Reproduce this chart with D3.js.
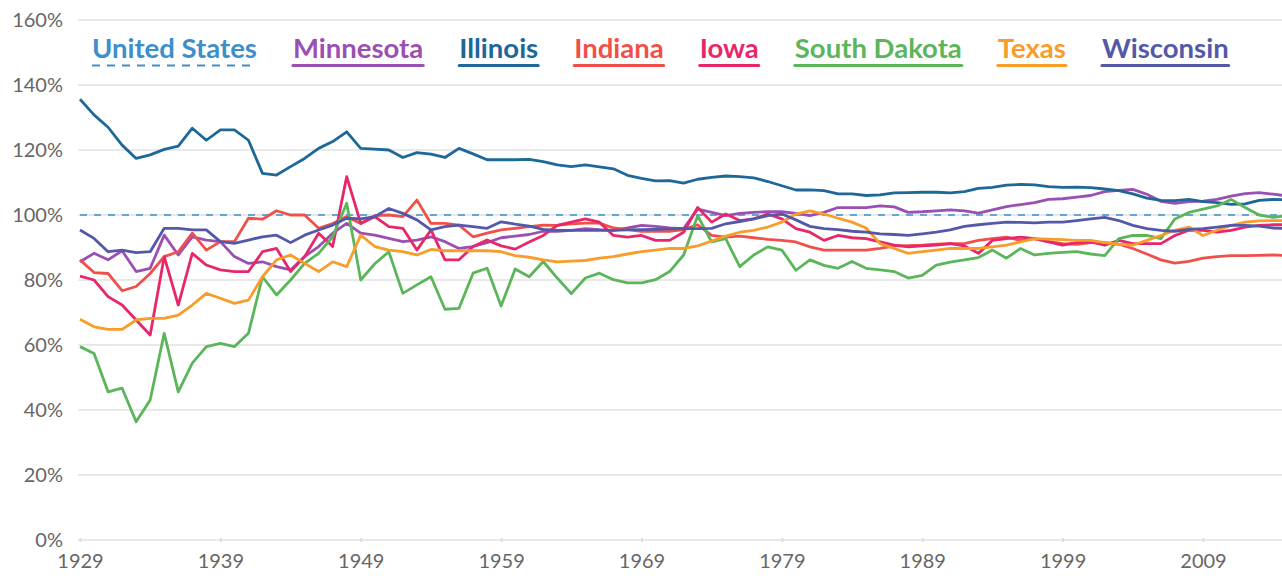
<!DOCTYPE html>
<html>
<head>
<meta charset="utf-8">
<script src="https://cdn.jsdelivr.net/npm/d3@7"></script>
<style>
  body { margin: 0; background: #fff; }
  svg { display: block; font-family: Lato, "Open Sans", sans-serif; }
</style>
</head>
<body>
<svg id="chart" width="1282" height="580"></svg>
<script>
const firstYear = 1929
const lastYear = 2015
const years = d3.range(firstYear, lastYear + 1)
const xTicks = [1929, 1939, 1949, 1959, 1969, 1979, 1989, 1999, 2009]
const yTicks = [0, 20, 40, 60, 80, 100, 120, 140, 160]
const usLevel = 100

// per capita income relative to the US, %
const illinois = [135.6,130.8,127,121.5,117.4,118.5,120.2,121.2,126.7,123,126.2,126.2,123,112.8,112.3,114.9,117.4,120.5,122.6,125.6,
  120.5,120.3,120,117.7,119.2,118.7,117.7,120.5,118.8,117,117,117,117.1,116.4,115.4,114.9,115.4,114.8,114.2,112.2,
  111.3,110.5,110.6,109.8,111,111.6,112,111.8,111.4,110.3,109,107.7,107.7,107.5,106.5,106.5,106,106.2,106.8,106.9,
  107,107,106.8,107.2,108.2,108.5,109.2,109.4,109.3,108.7,108.5,108.6,108.4,108,107.5,106.5,105.2,104.5,104.4,104.8,
  104.1,103.8,103.3,103.4,104.5,104.8,104.7]
const minnesota = [85.6,88.2,86.2,89,82.6,83.6,93.8,87.7,93.3,92.3,91.8,87.2,85.1,85.6,84.1,83.1,87.2,90.3,94.4,97.4,
  94.4,93.8,92.8,91.8,92.3,93.3,91.8,89.7,90.3,91.5,93,93.5,94,95,95,95.3,95.8,95.5,95.3,96,
  96.8,96.5,96,95.8,101.8,100.8,99.8,100.5,100.8,101,101,100.5,99.8,100.8,102.3,102.3,102.3,102.8,102.5,100.8,
  101,101.3,101.6,101.3,100.6,101.6,102.6,103.2,103.8,104.8,105,105.5,106,107.2,107.6,107.9,106.4,104.2,103.6,104.1,
  104.3,104.8,105.8,106.6,106.9,106.4,105.9]
const indiana = [86.2,82.3,82,76.7,78,82,87.2,88.7,94.4,89.2,91.8,91.8,99,98.7,101.3,100,100,95.9,97.4,99.5,
  97.4,99.8,100,99.5,104.6,97.4,97.4,96.9,93.3,94.4,95.4,95.9,96.4,96.9,96.8,97.3,97.5,97.5,96,95.5,
  95,95,95,95.5,97,93.7,93.2,93.5,93,92.5,92.2,91.7,90.2,89.2,89.2,89.2,89.2,89.7,90.5,90.6,
  90.7,91,91.2,91.2,92.2,92.7,93.2,92.2,92.7,91.8,91.2,91,91.5,91.5,91,89.7,88,86.2,85.2,85.7,
  86.7,87.2,87.5,87.5,87.6,87.7,87.5]
const iowa = [81.2,80,74.9,72.3,67.7,63.1,87.2,72.3,88.2,84.6,83.1,82.6,82.6,88.7,89.7,82.6,87.2,94.4,90.3,111.8,
  97.4,99.5,96.4,95.9,89.2,95.4,86.2,86.2,90.3,92.3,90.5,89.5,91.7,93.7,96.8,97.8,98.8,97.8,93.7,93.2,
  93.7,92.2,92.2,94.7,102.3,97.8,100.3,98.3,98.8,100.3,98.8,95.8,94.7,92.2,93.7,93,92.7,91.7,90.7,90.2,
  90.5,90.7,91.2,90.5,88.2,92.2,92.7,93.2,92.7,91.7,90.7,91.5,91.7,90.7,92.2,91.2,91.2,91.2,93.7,95.3,
  95.3,94.7,95.3,96.3,96.8,97,97]
const southDakota = [59.5,57.4,45.6,46.7,36.4,43.1,63.6,45.6,54.4,59.5,60.5,59.5,63.6,81,75.4,80,85.1,88.2,93.3,103.6,
  80,85,88.7,75.9,78.5,81,71,71.3,82.1,83.6,72,83.4,81,85.7,80.6,75.8,80.6,82.1,80.1,79.1,
  79.1,80.1,82.6,87.7,99.8,91.7,92.7,84.1,87.7,90.2,89.2,83,86.2,84.5,83.6,85.7,83.6,83.1,82.6,80.6,
  81.4,84.6,85.5,86.2,86.9,89.2,86.7,89.7,87.7,88.2,88.5,88.7,88,87.5,92.7,93.7,93.7,92.7,98.8,100.8,
  101.8,102.8,104.8,102.3,100,99.3,99.8]
const texas = [67.9,65.6,64.8,64.8,67.7,68.2,68.2,69.2,72.3,75.9,74.4,72.8,73.8,81,86.2,87.7,85.1,82.6,85.6,84.1,
  93.8,90.3,89.2,88.7,87.7,89.4,89,89,89,89,88.7,87.5,87,86.2,85.6,85.8,86,86.7,87.2,88,
  88.7,89.2,89.7,89.7,90.5,92,93.5,94.7,95.3,96.3,97.8,100.3,101.3,100.3,99,97.8,96,91.2,89.7,88.2,
  88.7,89.2,89.7,89.7,89.7,90.2,90.7,91.7,92.7,92.6,92.4,92.2,92.2,91.5,91,90.7,92.2,93.7,95.3,96.3,
  93.7,95.3,96.8,97.8,98.2,98.3,98.3]
const wisconsin = [95.4,92.8,88.7,89.2,88.4,88.7,95.9,95.9,95.4,95.4,91.8,91.3,92.3,93.3,93.8,91.5,93.8,95.4,96.9,99,
  98.8,99.5,102,100.5,98.5,95.4,96.4,96.9,96.4,95.9,97.9,97.2,96.6,95.6,95.3,95.3,95.3,95.3,95.3,95.4,
  95.5,95.6,95.7,95.8,95.8,95.9,97.3,98,98.8,99.8,100.3,98.5,96.5,95.8,95.5,95,94.7,94.2,94,93.7,
  94.2,94.7,95.4,96.5,97,97.4,97.8,97.7,97.6,97.8,97.8,98.3,98.8,99.3,98.3,96.8,95.8,95.3,95,95.6,
  95.8,96.3,96.8,96.8,96.6,96,95.8]

const series = [
  { name: 'United States', color: '#3d8fcc', values: years.map(() => usLevel), dashed: true },
  { name: 'Minnesota', color: '#9b4fb3', values: minnesota },
  { name: 'Illinois', color: '#1d6898', values: illinois },
  { name: 'Indiana', color: '#f0504a', values: indiana },
  { name: 'Iowa', color: '#e8276b', values: iowa },
  { name: 'South Dakota', color: '#5bb65a', values: southDakota },
  { name: 'Texas', color: '#f89c2a', values: texas },
  { name: 'Wisconsin', color: '#5458a9', values: wisconsin }
]

const svg = d3.select('#chart')
const width = 1282

const x = d3.scaleLinear().domain([1929, 2009]).range([80, 1203])
const y = d3.scaleLinear().domain([0, 160]).range([540, 20])

// grid
svg.append('g')
  .selectAll('line')
  .data(yTicks)
  .enter()
  .append('line')
  .attr('x1', 78)
  .attr('x2', width)
  .attr('y1', d => y(d))
  .attr('y2', d => y(d))
  .attr('stroke', '#e9e9e9')
  .attr('stroke-width', 2)

svg.append('g')
  .selectAll('text')
  .data(yTicks)
  .enter()
  .append('text')
  .attr('x', 63)
  .attr('y', d => y(d) + 7)
  .attr('text-anchor', 'end')
  .attr('fill', '#666')
  .style('font-size', '20px')
  .text(d => d + '%')

// x axis
const xAxis = svg.append('g')
  .attr('transform', 'translate(0,' + y(0) + ')')
  .call(d3.axisBottom(x).tickValues(xTicks).tickFormat(d3.format('d')).tickSize(4).tickPadding(10))
xAxis.select('.domain').remove()
xAxis.selectAll('.tick line').attr('stroke', '#ddd').attr('stroke-width', 2).attr('transform', 'translate(0,-2)')
xAxis.selectAll('.tick text').attr('fill', '#666').style('font-size', '20px').style('font-family', 'Lato, sans-serif')

// lines
const line = d3.line()
  .x((d, i) => x(years[i]))
  .y(d => y(d))

svg.append('g')
  .selectAll('path')
  .data(series)
  .enter()
  .append('path')
  .attr('d', d => line(d.values))
  .attr('fill', 'none')
  .attr('stroke', d => d.color)
  .attr('stroke-width', d => d.dashed ? 1.3 : 2.8)
  .attr('stroke-dasharray', d => d.dashed ? '7,7' : null)
  .attr('stroke-linejoin', 'round')

// legend
const legend = svg.append('g')
let lx = 92
series.forEach(s => {
  const t = legend.append('text')
    .attr('x', lx)
    .attr('y', 58)
    .attr('fill', s.color)
    .style('font-size', '27.5px')
    .style('font-weight', 'bold')
    .text(s.name)
  const w = t.node().getComputedTextLength()
  legend.append('line')
    .attr('x1', lx)
    .attr('x2', lx + w)
    .attr('y1', 65.5)
    .attr('y2', 65.5)
    .attr('stroke', s.color)
    .attr('stroke-width', s.dashed ? 2 : 3)
    .attr('stroke-dasharray', s.dashed ? '8,7' : null)
    .attr('stroke-linecap', s.dashed ? 'butt' : 'round')
  lx += w + 36
})
</script>
</body>
</html>
